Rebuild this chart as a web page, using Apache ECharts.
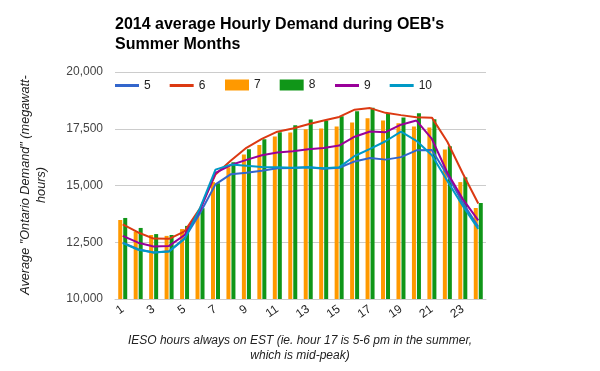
<!DOCTYPE html>
<html>
<head>
<meta charset="utf-8">
<script src="https://cdn.jsdelivr.net/npm/echarts@6/dist/echarts.min.js"></script>
<style>html,body{margin:0;padding:0;background:#fff;}#c{width:600px;height:371px;}</style>
</head>
<body>
<div id="c"></div>
<script>
var hours = ['1','2','3','4','5','6','7','8','9','10','11','12','13','14','15','16','17','18','19','20','21','22','23','24'];
var yTicks = [10000, 12500, 15000, 17500, 20000];
var m5 = [12480, 12190, 12050, 12100, 12680, 13780, 15050, 15500, 15560, 15650, 15760, 15770, 15800, 15740, 15780, 16060, 16210, 16140, 16250, 16550, 16560, 15450, 14240, 13180];
var m6 = [13290, 12930, 12660, 12650, 12980, 13990, 15480, 16100, 16660, 17050, 17370, 17510, 17700, 17860, 18020, 18340, 18410, 18200, 18100, 18010, 17990, 16930, 15530, 14210];
var m7 = [13480, 12970, 12820, 12780, 13080, 13650, 15150, 15800, 16370, 16780, 17160, 17340, 17480, 17510, 17600, 17780, 17960, 17860, 17740, 17600, 17560, 16590, 15150, 14010];
var m8 = [13570, 13130, 12860, 12820, 13220, 14000, 15100, 16020, 16600, 17040, 17350, 17650, 17910, 17860, 18050, 18270, 18420, 18180, 18000, 18180, 17920, 16730, 15360, 14230];
var m9 = [12780, 12480, 12310, 12340, 12820, 13900, 15560, 15900, 16130, 16330, 16450, 16510, 16600, 16650, 16760, 17150, 17380, 17350, 17680, 17860, 17050, 15560, 14400, 13460];
var m10 = [12460, 12170, 12050, 12090, 12640, 14000, 15700, 15920, 15870, 15820, 15800, 15780, 15800, 15760, 15800, 16300, 16610, 16950, 17370, 16970, 16330, 15200, 14100, 13090];

var FONT = 'Arial, "Liberation Sans", sans-serif';
var chart = echarts.init(document.getElementById('c'), null, {renderer: 'canvas'});
var legendBase = {
  itemWidth: 24, itemGap: 19, icon: 'rect',
  textStyle: {fontSize: 12, color: '#222', fontFamily: FONT}, padding: 0
};
chart.setOption({
  animation: false,
  backgroundColor: '#fff',
  title: {
    text: "2014 average Hourly Demand during OEB's\nSummer Months",
    left: 115, top: 15, padding: 0,
    textStyle: {fontSize: 16, fontWeight: 'bold', color: '#000', fontFamily: FONT, lineHeight: 20}
  },
  legend: [
    Object.assign({}, legendBase, {left: 115, top: 79.5, data: ['5', '6'], itemHeight: 3}),
    Object.assign({}, legendBase, {left: 225, top: 79, data: ['7', '8'], itemHeight: 11}),
    Object.assign({}, legendBase, {left: 335, top: 79.5, data: ['9', '10'], itemHeight: 3})
  ],
  grid: {left: 115, right: 114, top: 72, bottom: 72, containLabel: false},
  xAxis: {
    type: 'category', data: hours,
    axisLine: {lineStyle: {color: '#ccc'}},
    axisTick: {show: false},
    axisLabel: {interval: 1, rotate: 35, fontSize: 12, color: '#222', fontFamily: FONT, margin: 9}
  },
  yAxis: {
    type: 'value', min: yTicks[0], max: yTicks[yTicks.length - 1], interval: 2500,
    axisLine: {show: false}, axisTick: {show: false},
    splitLine: {lineStyle: {color: '#ccc'}},
    axisLabel: {fontSize: 12, color: '#444', fontFamily: FONT, margin: 12}
  },
  graphic: [
    {type: 'text', x: 300, y: 348, style: {text: 'IESO hours always on EST (ie. hour 17 is 5-6 pm in the summer,\nwhich is mid-peak)', align: 'center', verticalAlign: 'middle', font: 'italic 12px ' + FONT, fill: '#222', lineHeight: 15}},
    {type: 'text', x: 33, y: 185, rotation: Math.PI / 2, style: {text: 'Average "Ontario Demand" (megawatt-\nhours)', align: 'center', verticalAlign: 'middle', font: 'italic 12.7px ' + FONT, fill: '#222', lineHeight: 16}}
  ],
  series: [
    {name: '7', type: 'bar', data: m7, barWidth: 4, barGap: '25%', itemStyle: {color: '#ff9900'}},
    {name: '8', type: 'bar', data: m8, barWidth: 4, barGap: '25%', itemStyle: {color: '#109618'}},
    {name: '5', type: 'line', data: m5, symbol: 'none', lineStyle: {width: 2, color: '#3366cc'}, itemStyle: {color: '#3366cc'}},
    {name: '6', type: 'line', data: m6, symbol: 'none', lineStyle: {width: 2, color: '#dc3912'}, itemStyle: {color: '#dc3912'}},
    {name: '9', type: 'line', data: m9, symbol: 'none', lineStyle: {width: 2, color: '#990099'}, itemStyle: {color: '#990099'}},
    {name: '10', type: 'line', data: m10, symbol: 'none', lineStyle: {width: 2, color: '#0099c6'}, itemStyle: {color: '#0099c6'}}
  ]
});
</script>
</body>
</html>
